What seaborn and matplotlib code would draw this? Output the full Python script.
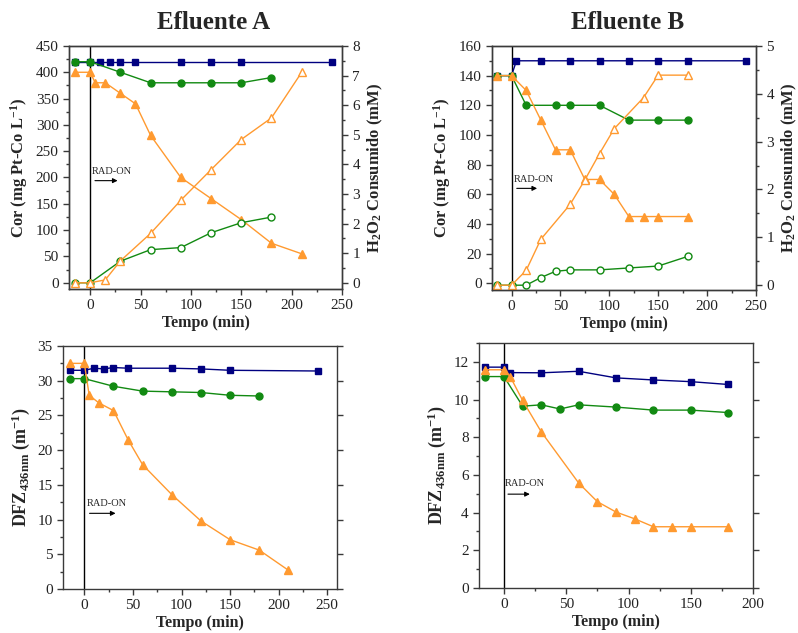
import numpy as np
import pandas as pd
import matplotlib
matplotlib.use('Agg')
import matplotlib.pyplot as plt
import seaborn as sns
from matplotlib.ticker import MultipleLocator

# ---------------- data ----------------
# Efluente A - Cor (left axis)
a_cor_blue_t = [-15, 0, 10, 20, 30, 45, 90, 120, 150, 240]
a_cor_blue_v = [420, 420, 420, 420, 420, 420, 420, 420, 420, 420]
a_cor_green_t = [-15, 0, 30, 60, 90, 120, 150, 180]
a_cor_green_v = [420, 420, 400, 380, 380, 380, 380, 390]
a_cor_orange_t = [-15, 0, 5, 15, 30, 45, 60, 90, 120, 150, 180, 210]
a_cor_orange_v = [400, 400, 380, 380, 360, 340, 280, 200, 160, 120, 75, 55]
# Efluente A - H2O2 consumido (right axis)
a_h2o2_green_t = [-15, 0, 30, 60, 90, 120, 150, 180]
a_h2o2_green_v = [0, 0, 0.73, 1.12, 1.19, 1.69, 2.03, 2.22]
a_h2o2_orange_t = [-15, 0, 15, 30, 60, 90, 120, 150, 180, 210]
a_h2o2_orange_v = [0, 0, 0.1, 0.74, 1.67, 2.79, 3.82, 4.84, 5.57, 7.11]

# Efluente B - Cor (left axis)
b_cor_blue_t = [-15, 0, 5, 30, 60, 90, 120, 150, 180, 240]
b_cor_blue_v = [140, 140, 150, 150, 150, 150, 150, 150, 150, 150]
b_cor_green_t = [-15, 0, 15, 45, 60, 90, 120, 150, 180]
b_cor_green_v = [140, 140, 120, 120, 120, 120, 110, 110, 110]
b_cor_orange_t = [-15, 0, 15, 30, 45, 60, 75, 90, 105, 120, 135, 150, 180]
b_cor_orange_v = [140, 140, 130, 110, 90, 90, 70, 70, 60, 45, 45, 45, 45]
# Efluente B - H2O2 consumido (right axis)
b_h2o2_green_t = [-15, 0, 15, 30, 45, 60, 90, 120, 150, 180]
b_h2o2_green_v = [0, 0, 0.0, 0.16, 0.29, 0.32, 0.32, 0.36, 0.40, 0.60]
b_h2o2_orange_t = [-15, 0, 15, 30, 60, 75, 90, 105, 135, 150, 180]
b_h2o2_orange_v = [0, 0, 0.31, 0.96, 1.69, 2.2, 2.75, 3.27, 3.92, 4.39, 4.39]

# Efluente A - DFZ 436nm
a_dfz_blue_t = [-15, 0, 10, 20, 30, 45, 90, 120, 150, 240]
a_dfz_blue_v = [31.5, 31.5, 31.8, 31.7, 31.9, 31.8, 31.8, 31.7, 31.5, 31.4]
a_dfz_green_t = [-15, 0, 30, 60, 90, 120, 150, 180]
a_dfz_green_v = [30.3, 30.3, 29.2, 28.5, 28.4, 28.3, 27.9, 27.8]
a_dfz_orange_t = [-15, 0, 5, 15, 30, 45, 60, 90, 120, 150, 180, 210]
a_dfz_orange_v = [32.5, 32.5, 27.9, 26.8, 25.7, 21.5, 17.9, 13.6, 9.8, 7.1, 5.6, 2.7]

# Efluente B - DFZ 436nm
b_dfz_blue_t = [-15, 0, 5, 30, 60, 90, 120, 150, 180]
b_dfz_blue_v = [11.72, 11.72, 11.43, 11.42, 11.5, 11.15, 11.04, 10.95, 10.8]
b_dfz_green_t = [-15, 0, 15, 30, 45, 60, 90, 120, 150, 180]
b_dfz_green_v = [11.22, 11.22, 9.65, 9.72, 9.5, 9.72, 9.6, 9.44, 9.44, 9.31]
b_dfz_orange_t = [-15, 0, 5, 15, 30, 60, 75, 90, 105, 120, 135, 150, 180]
b_dfz_orange_v = [11.58, 11.58, 11.22, 9.95, 8.28, 5.57, 4.58, 4.03, 3.67, 3.25, 3.25, 3.25, 3.25]

titles = ["Efluente A", "Efluente B"]

# ---------------- style ----------------
sns.set_theme(style='ticks')
plt.rcParams['font.family'] = ['Liberation Serif', 'DejaVu Serif']
plt.rcParams['mathtext.fontset'] = 'custom'
plt.rcParams['mathtext.rm'] = 'Liberation Serif:bold'
plt.rcParams['mathtext.bf'] = 'Liberation Serif:bold'
plt.rcParams['mathtext.it'] = 'Liberation Serif:bold'
plt.rcParams['mathtext.default'] = 'bf'

NAVY = '#000080'
GREEN = '#128a12'
ORANGE = '#ff9a30'
SPINE = '#3a3a3a'
TICK_FS = 11
XLAB_FS = 11.5
YLAB_FS = 12


def draw(ax, t, v, color, marker, filled=True, ms=5):
    df = pd.DataFrame({'t': t, 'v': v})
    sns.lineplot(data=df, x='t', y='v', ax=ax, color=color, marker=marker,
                 markersize=ms, linewidth=1.0,
                 markerfacecolor=color if filled else 'white',
                 markeredgecolor=color, markeredgewidth=1.0,
                 estimator=None, sort=False, legend=False)


def style_axis(ax):
    for s in ax.spines.values():
        s.set_color(SPINE)
        s.set_linewidth(1.0)
    ax.tick_params(which='major', direction='out', length=4, width=1,
                   color=SPINE, labelsize=TICK_FS, labelcolor='#222222')
    ax.tick_params(which='minor', direction='out', length=2.5, width=1, color=SPINE)
    ax.set_xlabel('')
    ax.set_ylabel('')


fig = plt.figure(figsize=(7.98, 6.33), dpi=100)

ax_tl = fig.add_axes([0.0865, 0.5434, 0.342, 0.384])
ax_tr = fig.add_axes([0.6165, 0.5419, 0.3308, 0.3855])
ax_bl = fig.add_axes([0.0789, 0.0695, 0.3434, 0.3839])
ax_br = fig.add_axes([0.6003, 0.0711, 0.3434, 0.387])

# ---- top left ----
ax = ax_tl
ax2 = ax.twinx()
draw(ax, a_cor_blue_t, a_cor_blue_v, NAVY, 's')
draw(ax, a_cor_green_t, a_cor_green_v, GREEN, 'o')
draw(ax, a_cor_orange_t, a_cor_orange_v, ORANGE, '^', ms=6)
draw(ax2, a_h2o2_green_t, a_h2o2_green_v, GREEN, 'o', filled=False)
draw(ax2, a_h2o2_orange_t, a_h2o2_orange_v, ORANGE, '^', filled=False, ms=6)
ax.set_xlim(-21, 250)
ax.set_ylim(-12, 450)
ax2.set_ylim(-0.21, 8)
ax.xaxis.set_major_locator(MultipleLocator(50))
ax.xaxis.set_minor_locator(MultipleLocator(25))
ax.yaxis.set_major_locator(MultipleLocator(50))
ax.yaxis.set_minor_locator(MultipleLocator(25))
ax2.yaxis.set_major_locator(MultipleLocator(1))
ax2.yaxis.set_minor_locator(MultipleLocator(0.5))
style_axis(ax)
style_axis(ax2)
ax.axvline(0, color='black', linewidth=1.0, zorder=1)
ax.text(2, 203, 'RAD-ON', fontsize=7.5, ha='left', va='bottom')
ax.annotate('', xy=(30, 194), xytext=(2, 194),
            arrowprops=dict(arrowstyle='-|>', color='black', lw=0.8, mutation_scale=7))
ax.set_xlabel('Tempo (min)', fontsize=XLAB_FS, fontweight='bold', labelpad=2)
ax.set_ylabel('Cor (mg Pt-Co L$^{-1}$)', fontsize=YLAB_FS, fontweight='bold', labelpad=4)
ax2.set_ylabel('H$_2$O$_2$ Consumido (mM)', fontsize=YLAB_FS, fontweight='bold', labelpad=4)

# ---- top right ----
ax = ax_tr
ax2 = ax.twinx()
draw(ax, b_cor_blue_t, b_cor_blue_v, NAVY, 's')
draw(ax, b_cor_green_t, b_cor_green_v, GREEN, 'o')
draw(ax, b_cor_orange_t, b_cor_orange_v, ORANGE, '^', ms=6)
draw(ax2, b_h2o2_green_t, b_h2o2_green_v, GREEN, 'o', filled=False)
draw(ax2, b_h2o2_orange_t, b_h2o2_orange_v, ORANGE, '^', filled=False, ms=6)
ax.set_xlim(-20, 250)
ax.set_ylim(-4.5, 160)
ax2.set_ylim(-0.1, 5)
ax.xaxis.set_major_locator(MultipleLocator(50))
ax.xaxis.set_minor_locator(MultipleLocator(25))
ax.yaxis.set_major_locator(MultipleLocator(20))
ax.yaxis.set_minor_locator(MultipleLocator(10))
ax2.yaxis.set_major_locator(MultipleLocator(1))
ax2.yaxis.set_minor_locator(MultipleLocator(0.5))
style_axis(ax)
style_axis(ax2)
ax.axvline(0, color='black', linewidth=1.0, zorder=1)
ax.text(2.5, 67, 'RAD-ON', fontsize=7.5, ha='left', va='bottom')
ax.annotate('', xy=(29, 64), xytext=(2.5, 64),
            arrowprops=dict(arrowstyle='-|>', color='black', lw=0.8, mutation_scale=7))
ax.set_xlabel('Tempo (min)', fontsize=XLAB_FS, fontweight='bold', labelpad=2)
ax.set_ylabel('Cor (mg Pt-Co L$^{-1}$)', fontsize=YLAB_FS, fontweight='bold', labelpad=4)
ax2.set_ylabel('H$_2$O$_2$ Consumido (mM)', fontsize=YLAB_FS, fontweight='bold', labelpad=4)

# ---- bottom left ----
ax = ax_bl
draw(ax, a_dfz_blue_t, a_dfz_blue_v, NAVY, 's')
draw(ax, a_dfz_green_t, a_dfz_green_v, GREEN, 'o')
draw(ax, a_dfz_orange_t, a_dfz_orange_v, ORANGE, '^', ms=6)
ax.set_xlim(-22, 260)
ax.set_ylim(0, 35)
ax.xaxis.set_major_locator(MultipleLocator(50))
ax.xaxis.set_minor_locator(MultipleLocator(25))
ax.yaxis.set_major_locator(MultipleLocator(5))
ax.yaxis.set_minor_locator(MultipleLocator(2.5))
style_axis(ax)
ax.tick_params(axis='y', which='major', right=True)
ax.axvline(0, color='black', linewidth=1.0, zorder=1)
ax.text(2.5, 11.6, 'RAD-ON', fontsize=7.5, ha='left', va='bottom')
ax.annotate('', xy=(35, 10.9), xytext=(2.5, 10.9),
            arrowprops=dict(arrowstyle='-|>', color='black', lw=0.8, mutation_scale=7))
ax.set_xlabel('Tempo (min)', fontsize=XLAB_FS, fontweight='bold', labelpad=2)
ax.set_ylabel('DFZ$_{436nm}$ (m$^{-1}$)', fontsize=YLAB_FS + 1, fontweight='bold', labelpad=4)

# ---- bottom right ----
ax = ax_br
draw(ax, b_dfz_blue_t, b_dfz_blue_v, NAVY, 's')
draw(ax, b_dfz_green_t, b_dfz_green_v, GREEN, 'o')
draw(ax, b_dfz_orange_t, b_dfz_orange_v, ORANGE, '^', ms=6)
ax.set_xlim(-20, 200)
ax.set_ylim(0, 13)
ax.xaxis.set_major_locator(MultipleLocator(50))
ax.xaxis.set_minor_locator(MultipleLocator(25))
ax.yaxis.set_major_locator(MultipleLocator(2))
ax.yaxis.set_minor_locator(MultipleLocator(1))
style_axis(ax)
ax.tick_params(axis='y', which='major', right=True)
ax.axvline(0, color='black', linewidth=1.0, zorder=1)
ax.text(1, 5.3, 'RAD-ON', fontsize=7.5, ha='left', va='bottom')
ax.annotate('', xy=(23, 4.98), xytext=(1, 4.98),
            arrowprops=dict(arrowstyle='-|>', color='black', lw=0.8, mutation_scale=7))
ax.set_xlabel('Tempo (min)', fontsize=XLAB_FS, fontweight='bold', labelpad=2)
ax.set_ylabel('DFZ$_{436nm}$ (m$^{-1}$)', fontsize=YLAB_FS + 1, fontweight='bold', labelpad=4)

fig.text(0.268, 0.965, titles[0], fontsize=18, fontweight='bold', ha='center', va='center')
fig.text(0.787, 0.965, titles[1], fontsize=18, fontweight='bold', ha='center', va='center')

fig.savefig('out.png', dpi=100)
